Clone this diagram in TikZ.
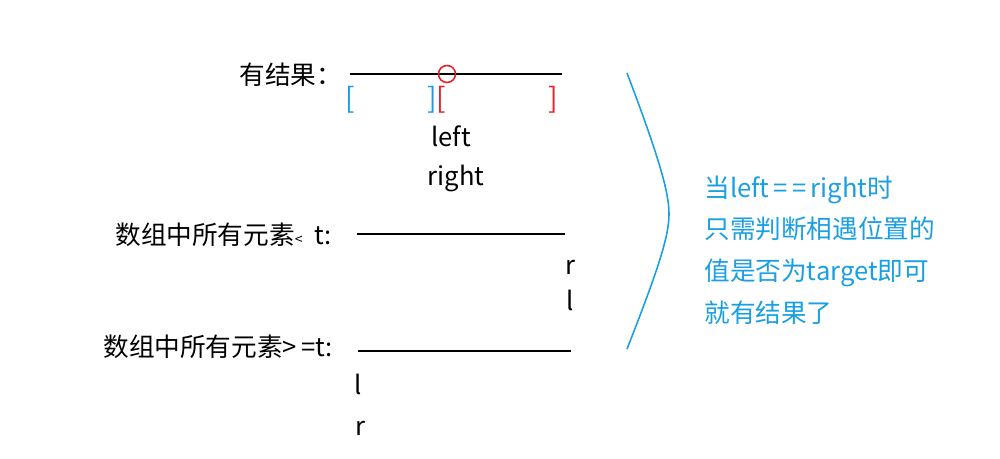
\documentclass[tikz,border=0pt]{standalone}
\usepackage{fontspec}
\setmainfont{Noto Sans CJK SC}
\usepackage{xcolor}
\definecolor{hiblue}{HTML}{1A9FE3}
\definecolor{hired}{HTML}{E8212A}
\usetikzlibrary{calc}

\tikzset{
	txt/.style={inner sep=0pt,font=\fontsize{14.6}{17}\selectfont},
	brk/.style={inner sep=0pt,font=\fontsize{16}{19}\selectfont},
	seg/.style={line width=0.9pt}
}

\begin{document}
\begin{tikzpicture}[x=0.02cm,y=-0.02cm]
			\useasboundingbox (0,0) rectangle (1000,459);
			%caso 1: hay resultado
			\node[txt,anchor=west] (res) at (239,75) {有结果：};
			\coordinate (a1) at (350,74);
			\coordinate (b1) at (562,74);
			\draw[seg] (a1) -- (b1);
			\draw[hired,line width=0.9pt] (447,74) circle (8.5);
			\node[brk,hiblue] (lb1) at (350,100) {[};
			\node[brk,hiblue] (rb1) at (432,100) {]};
			\node[brk,hired] (lb2) at (441,100) {[};
			\node[brk,hired] (rb2) at (553,100) {]};
			\node[txt] (left) at (451,136) {left};
			\node[txt] (right) at (456,178) {right};
			
			%caso 2: todos < t
			\node[txt,anchor=west] (lt) at (115,235) {数组中所有元素{\fontsize{8}{10}\selectfont<}\ \ t:};
			\coordinate (a2) at (357,234);
			\coordinate (b2) at (565,234);
			\draw[seg] (a2) -- (b2);
			\node[txt] (r2) at (570,267) {r};
			\node[txt] (l2) at (570,300) {l};
			
			%caso 3: todos >= t
			\node[txt,anchor=west] (ge) at (103,347) {数组中所有元素>\,=t:};
			\coordinate (a3) at (358,351);
			\coordinate (b3) at (571,351);
			\draw[seg] (a3) -- (b3);
			\node[txt] (l3) at (358,384) {l};
			\node[txt] (r3) at (360,428) {r};
			
			%llave y nota
			\draw[hiblue,line width=0.9pt] (627,73) .. controls (662,165) and (669,195) .. (669,214) .. controls (669,235) and (660,265) .. (627,349);
			\node[txt,hiblue,anchor=west,align=left,font=\fontsize{14.6}{23.8}\selectfont] (note) at (704,250) {当left\,=\,=\,right时\\只需判断相遇位置的\\值是否为target即可\\就有结果了};
	\end{tikzpicture}
\end{document}
